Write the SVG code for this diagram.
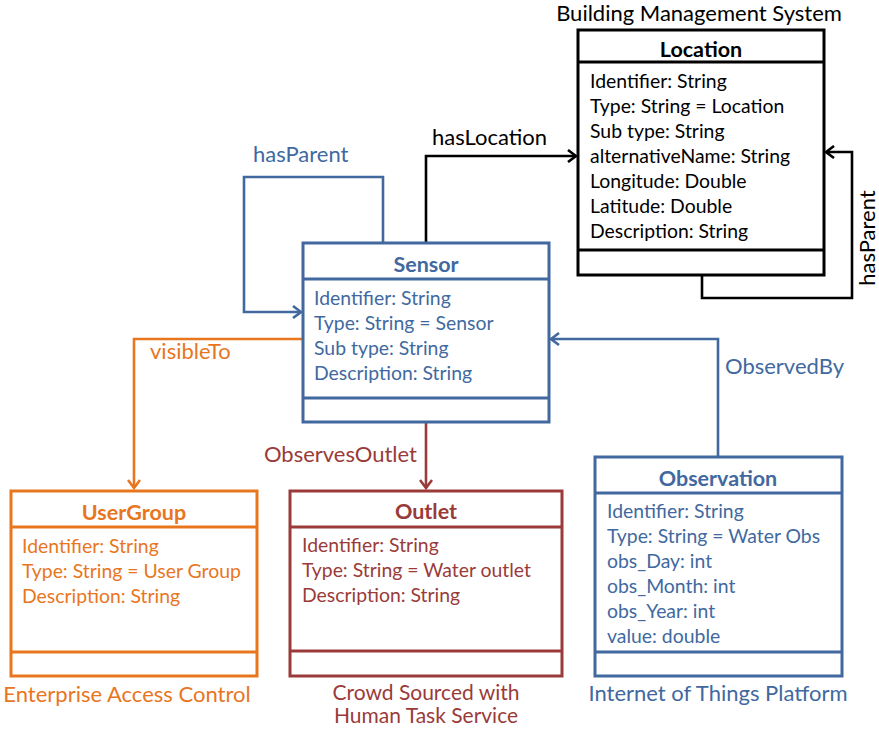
<svg xmlns="http://www.w3.org/2000/svg" width="879" height="729" viewBox="0 0 879 729">
  <defs>
    <style>
      text { font-family: "Lato", "Liberation Sans", sans-serif; font-size: 19.4px; }
      .title { font-weight: bold; text-anchor: middle; font-size: 21.5px; }
      .lbl { font-size: 22px; }
      .foot2 { font-size: 21px; }
      .mid { text-anchor: middle; }
      .box { fill: #ffffff; stroke-width: 3; }
      .conn { fill: none; stroke-width: 2.6; }
      .blue { fill: #41699F; }
      .blueS { stroke: #41699F; }
      .black { fill: #000000; }
      .blackS { stroke: #000000; }
      .orange { fill: #E8761E; }
      .orangeS { stroke: #E8761E; }
      .red { fill: #9A3B3A; }
      .redS { stroke: #9A3B3A; }
    </style>
    <marker id="arrBlue" markerWidth="12" markerHeight="14" refX="10" refY="7" orient="auto" markerUnits="userSpaceOnUse">
      <polyline points="2,1 10,7 2,13" fill="none" stroke="#41699F" stroke-width="2.6"/>
    </marker>
    <marker id="arrBlack" markerWidth="12" markerHeight="14" refX="10" refY="7" orient="auto" markerUnits="userSpaceOnUse">
      <polyline points="2,1 10,7 2,13" fill="none" stroke="#000000" stroke-width="2.6"/>
    </marker>
    <marker id="arrOrange" markerWidth="12" markerHeight="14" refX="10" refY="7" orient="auto" markerUnits="userSpaceOnUse">
      <polyline points="2,1 10,7 2,13" fill="none" stroke="#E8761E" stroke-width="2.6"/>
    </marker>
    <marker id="arrRed" markerWidth="12" markerHeight="14" refX="10" refY="7" orient="auto" markerUnits="userSpaceOnUse">
      <polyline points="2,1 10,7 2,13" fill="none" stroke="#9A3B3A" stroke-width="2.6"/>
    </marker>
  </defs>

  <!-- connectors -->
  <g id="connectors">
    <path class="conn blueS" d="M383,243 V177 H244 V312 H301" marker-end="url(#arrBlue)"/>
    <text class="blue lbl" x="253" y="162">hasParent</text>

    <path class="conn blackS" d="M426,243 V156 H576" marker-end="url(#arrBlack)"/>
    <text class="black lbl" x="432" y="145">hasLocation</text>

    <path class="conn blackS" d="M702,275 V298 H852 V152 H826" marker-end="url(#arrBlack)"/>
    <text class="black lbl" transform="translate(875,238) rotate(-90)" text-anchor="middle">hasParent</text>

    <path class="conn orangeS" d="M303,339 H134 V488" marker-end="url(#arrOrange)"/>
    <text class="orange lbl" x="150" y="359">visibleTo</text>

    <path class="conn redS" d="M426,422 V488" marker-end="url(#arrRed)"/>
    <text class="red lbl" x="417" y="462" text-anchor="end">ObservesOutlet</text>

    <path class="conn blueS" d="M718,457 V339 H551" marker-end="url(#arrBlue)"/>
    <text class="blue lbl" x="725" y="374">ObservedBy</text>
  </g>

  <!-- Location -->
  <g id="location">
    <text class="black mid lbl" x="699" y="21">Building Management System</text>
    <rect class="box blackS" x="578" y="30" width="246" height="245"/>
    <line class="blackS" stroke-width="3" x1="578" y1="62" x2="824" y2="62"/>
    <line class="blackS" stroke-width="3" x1="578" y1="250" x2="824" y2="250"/>
    <text class="black title" x="701" y="57">Location</text>
    <text class="black" x="590" y="88">Identifier: String</text>
    <text class="black" x="590" y="113">Type: String = Location</text>
    <text class="black" x="590" y="138">Sub type: String</text>
    <text class="black" x="590" y="163">alternativeName: String</text>
    <text class="black" x="590" y="188">Longitude: Double</text>
    <text class="black" x="590" y="213">Latitude: Double</text>
    <text class="black" x="590" y="238">Description: String</text>
  </g>

  <!-- Sensor -->
  <g id="sensor">
    <rect class="box blueS" x="303" y="243" width="246" height="179"/>
    <line class="blueS" stroke-width="3" x1="303" y1="279" x2="549" y2="279"/>
    <line class="blueS" stroke-width="3" x1="303" y1="398" x2="549" y2="398"/>
    <text class="blue title" x="426" y="272">Sensor</text>
    <text class="blue" x="314" y="305">Identifier: String</text>
    <text class="blue" x="314" y="330">Type: String = Sensor</text>
    <text class="blue" x="314" y="355">Sub type: String</text>
    <text class="blue" x="314" y="380">Description: String</text>
  </g>

  <!-- UserGroup -->
  <g id="usergroup">
    <rect class="box orangeS" x="11" y="491" width="246" height="185"/>
    <line class="orangeS" stroke-width="3" x1="11" y1="527" x2="257" y2="527"/>
    <line class="orangeS" stroke-width="3" x1="11" y1="652" x2="257" y2="652"/>
    <text class="orange title" x="134" y="520">UserGroup</text>
    <text class="orange" x="22" y="553">Identifier: String</text>
    <text class="orange" x="22" y="578">Type: String = User Group</text>
    <text class="orange" x="22" y="603">Description: String</text>
    <text class="orange mid lbl" x="127" y="702">Enterprise Access Control</text>
  </g>

  <!-- Outlet -->
  <g id="outlet">
    <rect class="box redS" x="290" y="491" width="272" height="185"/>
    <line class="redS" stroke-width="3" x1="290" y1="527" x2="562" y2="527"/>
    <line class="redS" stroke-width="3" x1="290" y1="651" x2="562" y2="651"/>
    <text class="red title" x="426" y="519">Outlet</text>
    <text class="red" x="302" y="552">Identifier: String</text>
    <text class="red" x="302" y="577">Type: String = Water outlet</text>
    <text class="red" x="302" y="602">Description: String</text>
    <text class="red mid foot2" x="426" y="700">Crowd Sourced with</text>
    <text class="red mid foot2" x="426" y="723">Human Task Service</text>
  </g>

  <!-- Observation -->
  <g id="observation">
    <rect class="box blueS" x="595" y="457" width="247" height="219"/>
    <line class="blueS" stroke-width="3" x1="595" y1="493" x2="842" y2="493"/>
    <line class="blueS" stroke-width="3" x1="595" y1="652" x2="842" y2="652"/>
    <text class="blue title" x="718" y="486">Observation</text>
    <text class="blue" x="607" y="518">Identifier: String</text>
    <text class="blue" x="607" y="543">Type: String = Water Obs</text>
    <text class="blue" x="607" y="568">obs_Day: int</text>
    <text class="blue" x="607" y="593">obs_Month: int</text>
    <text class="blue" x="607" y="618">obs_Year: int</text>
    <text class="blue" x="607" y="643">value: double</text>
    <text class="blue mid lbl" x="718" y="701">Internet of Things Platform</text>
  </g>
</svg>
